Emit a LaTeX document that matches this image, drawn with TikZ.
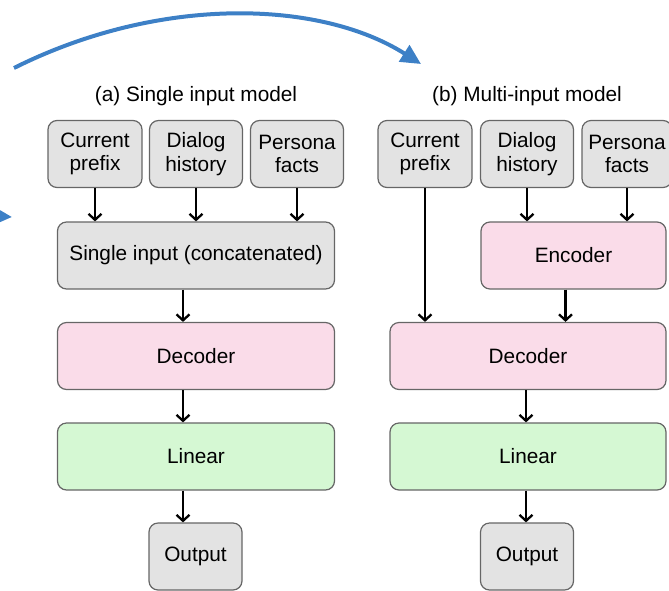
\documentclass[tikz,border=0pt]{standalone}
\usepackage{fontspec}
\setmainfont{Liberation Sans}
\usetikzlibrary{arrows.meta,positioning}

\definecolor{boxgray}{HTML}{E3E3E3}
\definecolor{boxpink}{HTML}{FADCE9}
\definecolor{boxgreen}{HTML}{D5F8D3}
\definecolor{curveblue}{HTML}{3D80C6}

\tikzset{
  block/.style={draw=black!60, line width=1.2pt, rounded corners=9pt, align=center,
    inner sep=0pt, minimum height=67pt, font=\fontsize{20.8}{23.5}\selectfont},
  graybox/.style={block, fill=boxgray},
  pinkbox/.style={block, fill=boxpink},
  greenbox/.style={block, fill=boxgreen},
  flow/.style={-{Straight Barb[length=6pt,width=13pt]}, line width=2.3pt},
  swoop/.style={curveblue, line width=4pt, -{Triangle[length=20pt,width=19pt]}},
  caption/.style={font=\fontsize{20.8}{23.5}\selectfont}
}

\begin{document}
\begin{tikzpicture}[x=1pt,y=-1pt]
    \useasboundingbox (0,0) rectangle (669,590);

    % (a) single input model
    \node[caption] (titleA) at (196,96) {(a) Single input model};
    \node[graybox, minimum width=94pt] (cpA) at (95,154) {Current\\prefix};
    \node[graybox, minimum width=93pt] (dhA) at (196,154) {Dialog\\history};
    \node[graybox, minimum width=93pt] (pfA) at (297,154) {Persona\\facts};
    \node[graybox, minimum width=277pt] (siA) at (196,255.5) {Single input (concatenated)};
    \node[pinkbox, minimum width=277pt] (decA) at (196,356) {Decoder};
    \node[greenbox, minimum width=277pt] (linA) at (196,456.5) {Linear};
    \node[graybox, minimum width=93pt] (outA) at (195.5,556.5) {Output};

    \draw[flow] (cpA) -- (siA.north -| cpA);
    \draw[flow] (dhA) -- (siA.north -| dhA);
    \draw[flow] (pfA) -- (siA.north -| pfA);
    \draw[flow] ([xshift=-13pt]siA.south) -- ([xshift=-13pt]decA.north);
    \draw[flow] ([xshift=-13pt]decA.south) -- ([xshift=-13pt]linA.north);
    \draw[flow] ([xshift=-13pt]linA.south) -- ([xshift=-13pt]linA.south |- outA.north);

    % (b) multi-input model
    \node[caption] (titleB) at (527,96) {(b) Multi-input model};
    \node[graybox, minimum width=94pt] (cpB) at (425,154) {Current\\prefix};
    \node[graybox, minimum width=93pt] (dhB) at (527,154) {Dialog\\history};
    \node[graybox, minimum width=90pt] (pfB) at (627,154) {Persona\\facts};
    \node[pinkbox, minimum width=185pt] (encB) at (573.5,255.5) {Encoder};
    \node[pinkbox, minimum width=276pt] (decB) at (528,356) {Decoder};
    \node[greenbox, minimum width=276pt] (linB) at (528,456.5) {Linear};
    \node[graybox, minimum width=93pt] (outB) at (527,556.5) {Output};

    \draw[flow] (cpB) -- (decB.north -| cpB);
    \draw[flow] (dhB) -- (encB.north -| dhB);
    \draw[flow] (pfB) -- (encB.north -| pfB);
    \draw[flow] ([xshift=-8pt]encB.south) -- ([xshift=-8pt]encB.south |- decB.north);
    \draw[flow] ([xshift=-2pt]decB.south) -- ([xshift=-2pt]linB.north);
    \draw[flow] ([xshift=-2pt]linB.south) -- ([xshift=-2pt]linB.south |- outB.north);

    % blue arrows
    \coordinate (swoopStart) at (14,68);
    \coordinate (swoopEnd) at (421,64);
    \draw[swoop] (swoopStart) .. controls (160,-5) and (320,0) .. (swoopEnd);
    \coordinate (stubStart) at (-40,214);
    \coordinate (stubEnd) at (12,217);
    \draw[swoop] (stubStart) -- (stubEnd);
\end{tikzpicture}
\end{document}
